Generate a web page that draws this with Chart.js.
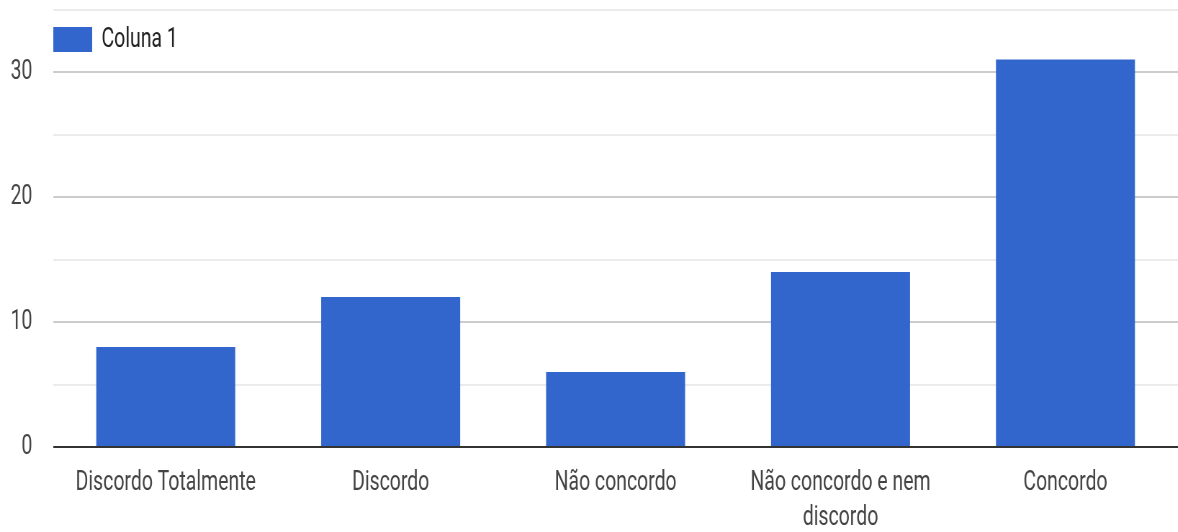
<!DOCTYPE html>
<html>
<head>
<meta charset="utf-8">
<script src="https://cdn.jsdelivr.net/npm/chart.js@4/dist/chart.umd.min.js"></script>
<style>
  html, body { margin: 0; padding: 0; background: #fff; overflow: hidden; }
  /* the reference text is narrow and tall, so draw wide and squeeze horizontally */
  #wrap { width: 1636px; height: 532px; transform: scaleX(0.72); transform-origin: 0 0; }
</style>
</head>
<body>
<div id="wrap"><canvas id="chart" width="1636" height="532"></canvas></div>
<script>
// values
const categories = ['Discordo Totalmente', 'Discordo', 'Não concordo', ['Não concordo e nem', 'discordo'], 'Concordo'];
const seriesName = 'Coluna 1';
const values = [8, 12, 6, 14, 31];
const yLabelled = [0, 10, 20, 30];

const textColor = '#444';
const fontFamily = 'Roboto, Arial, sans-serif';

// legend drawn inside the plot, top left, like the sheets chart
const insideLegend = {
  id: 'insideLegend',
  afterDraw: function(chart) {
    var c = chart.ctx;
    var area = chart.chartArea;
    var ds = chart.data.datasets[0];
    c.save();
    c.fillStyle = ds.backgroundColor;
    c.fillRect(area.left, 27, 54, 25);
    c.fillStyle = '#222';
    c.font = '27px ' + fontFamily;
    c.textBaseline = 'middle';
    c.fillText(ds.label, area.left + 67, 40);
    c.restore();
  }
};

var ctx = document.getElementById('chart');
var chart = new Chart(ctx, {
  type: 'bar',
  data: {
    labels: categories,
    datasets: [{
      label: seriesName,
      data: values,
      backgroundColor: '#3366cc',
      borderWidth: 0,
      categoryPercentage: 1,
      barPercentage: 0.618
    }]
  },
  options: {
    responsive: false,
    animation: false,
    layout: { padding: { top: 9.5, right: 0, left: 0, bottom: 0 } },
    scales: {
      x: {
        grid: { display: false },
        border: { display: false },
        ticks: {
          color: textColor,
          font: { family: fontFamily, size: 27, lineHeight: 1.3 },
          maxRotation: 0,
          autoSkip: false,
          padding: 11
        },
        afterFit: function(scale) { scale.height = 85; }
      },
      y: {
        min: 0,
        max: 35,
        border: { display: false },
        grid: {
          drawTicks: false,
          color: function(c) {
            if (c.tick.value === 0) return '#333';
            return c.tick.value % 10 === 0 ? '#cccccc' : '#ebebeb';
          },
          lineWidth: 2
        },
        ticks: {
          stepSize: 5,
          color: textColor,
          padding: 29,
          font: { family: fontFamily, size: 27 },
          callback: function(v) { return yLabelled.indexOf(v) >= 0 ? String(v) : ''; }
        },
        afterFit: function(scale) {
          scale.width = 74;
          scale.paddingTop = 0;
          scale.paddingBottom = 0;
        }
      }
    },
    plugins: {
      legend: { display: false },
      tooltip: { enabled: false }
    }
  },
  plugins: [insideLegend]
});
</script>
</body>
</html>
